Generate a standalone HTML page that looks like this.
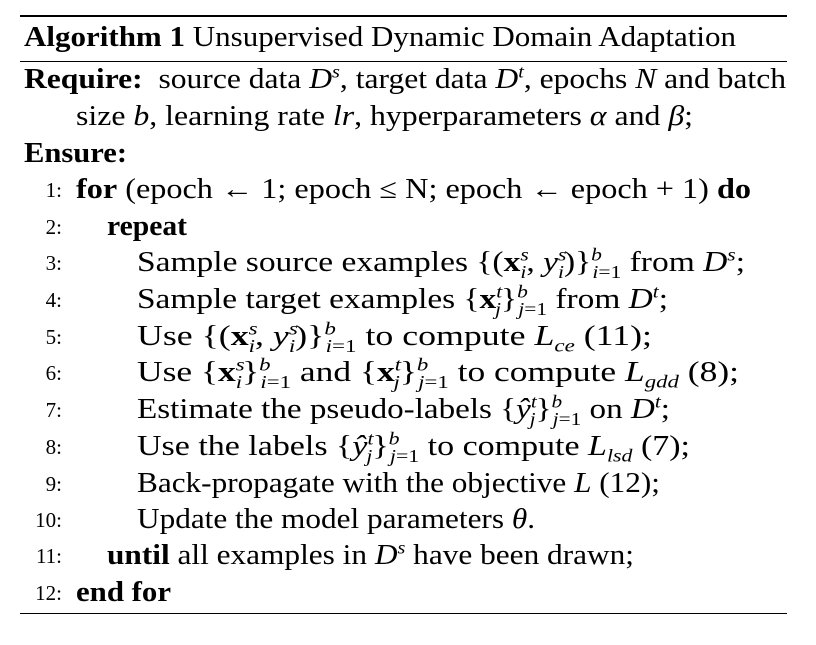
<!DOCTYPE html>
<html><head><meta charset="utf-8">
<style>
html,body{margin:0;padding:0;background:#fff;}
body{width:816px;height:645px;position:relative;overflow:hidden;font-family:"Liberation Serif",serif;color:#000;}
.rule{position:absolute;left:20px;width:767px;background:#000;}
.ln{position:absolute;font-size:28px;line-height:30px;white-space:nowrap;transform-origin:0 50%;}
.no{position:absolute;font-size:21px;line-height:30px;width:40px;text-align:right;left:22px;}
i{font-style:italic;}
b{font-weight:bold;}
sub,sup{font-size:18px;line-height:0;}
.bx{font-weight:bold;font-style:normal;}
</style></head><body>
<div class="rule" style="top:15px;height:2px"></div>
<div class="ln" data-r="736" style="left:24px;top:23px"><b>Algorithm 1</b> Unsupervised Dynamic Domain Adaptation</div>
<div class="rule" style="top:61px;height:1px"></div>

<div class="ln" data-r="786" style="left:24px;top:65px"><b>Require:</b>&nbsp; source data <i>D</i><sup><i>s</i></sup>, target data <i>D</i><sup><i>t</i></sup>, epochs <i>N</i> and batch</div>
<div class="ln" data-r="693" style="left:76px;top:102px">size <i>b</i>, learning rate <i>lr</i>, hyperparameters <i>α</i> and <i>β</i>;</div>
<div class="ln" data-r="127" style="left:24px;top:139px"><b>Ensure:</b></div>

<div class="no" style="top:175px">1:</div>
<div class="ln" data-r="751" style="left:76px;top:175px"><b>for</b> (epoch ← 1; epoch ≤ N; epoch ← epoch + 1) <b>do</b></div>
<div class="no" style="top:212px">2:</div>
<div class="ln" data-r="187" style="left:107px;top:212px"><b>repeat</b></div>
<div class="no" style="top:248px">3:</div>
<div class="ln" data-r="745" style="left:137px;top:248px">Sample source examples {(<span class="bx">x</span><sup><i>s</i></sup><sub style="margin-left:-7px"><i>i</i></sub>, <i>y</i><sup><i>s</i></sup><sub style="margin-left:-7px"><i>i</i></sub>)}<sup><i>b</i></sup><sub style="margin-left:-8px"><i>i</i>=1</sub> from <i>D</i><sup><i>s</i></sup>;</div>
<div class="no" style="top:285px">4:</div>
<div class="ln" data-r="668" style="left:137px;top:285px">Sample target examples {<span class="bx">x</span><sup><i>t</i></sup><sub style="margin-left:-6px"><i>j</i></sub>}<sup><i>b</i></sup><sub style="margin-left:-8px"><i>j</i>=1</sub> from <i>D</i><sup><i>t</i></sup>;</div>
<div class="no" style="top:322px">5:</div>
<div class="ln" data-r="652" style="left:137px;top:322px">Use {(<span class="bx">x</span><sup><i>s</i></sup><sub style="margin-left:-7px"><i>i</i></sub>, <i>y</i><sup><i>s</i></sup><sub style="margin-left:-7px"><i>i</i></sub>)}<sup><i>b</i></sup><sub style="margin-left:-8px"><i>i</i>=1</sub> to compute <i>L</i><sub><i>ce</i></sub> (11);</div>
<div class="no" style="top:358px">6:</div>
<div class="ln" data-r="739" style="left:137px;top:358px">Use {<span class="bx">x</span><sup><i>s</i></sup><sub style="margin-left:-7px"><i>i</i></sub>}<sup><i>b</i></sup><sub style="margin-left:-8px"><i>i</i>=1</sub> and {<span class="bx">x</span><sup><i>t</i></sup><sub style="margin-left:-6px"><i>j</i></sub>}<sup><i>b</i></sup><sub style="margin-left:-8px"><i>j</i>=1</sub> to compute <i>L</i><sub><i>gdd</i></sub> (8);</div>
<div class="no" style="top:395px">7:</div>
<div class="ln" data-r="670" style="left:137px;top:395px">Estimate the pseudo-labels {<i>ŷ</i><sup><i>t</i></sup><sub style="margin-left:-6px"><i>j</i></sub>}<sup><i>b</i></sup><sub style="margin-left:-8px"><i>j</i>=1</sub> on <i>D</i><sup><i>t</i></sup>;</div>
<div class="no" style="top:432px">8:</div>
<div class="ln" data-r="690" style="left:137px;top:432px">Use the labels {<i>ŷ</i><sup><i>t</i></sup><sub style="margin-left:-6px"><i>j</i></sub>}<sup><i>b</i></sup><sub style="margin-left:-8px"><i>j</i>=1</sub> to compute <i>L</i><sub><i>lsd</i></sub> (7);</div>
<div class="no" style="top:469px">9:</div>
<div class="ln" data-r="660" style="left:137px;top:469px">Back-propagate with the objective <i>L</i> (12);</div>
<div class="no" style="top:505px">10:</div>
<div class="ln" data-r="535" style="left:137px;top:505px">Update the model parameters <i>θ</i>.</div>
<div class="no" style="top:541px">11:</div>
<div class="ln" data-r="634" style="left:107px;top:541px"><b>until</b> all examples in <i>D</i><sup><i>s</i></sup> have been drawn;</div>
<div class="no" style="top:578px">12:</div>
<div class="ln" data-r="171" style="left:76px;top:578px"><b>end for</b></div>

<div class="rule" style="top:613px;height:1px"></div>
<script>
document.querySelectorAll('.ln').forEach(function(el){
  var r=parseFloat(el.getAttribute('data-r'));
  var left=el.offsetLeft;
  var w=el.getBoundingClientRect().width;
  if(w>0){el.style.transform='scaleX('+((r-left)/w)+')';}
});
</script>
</body></html>
